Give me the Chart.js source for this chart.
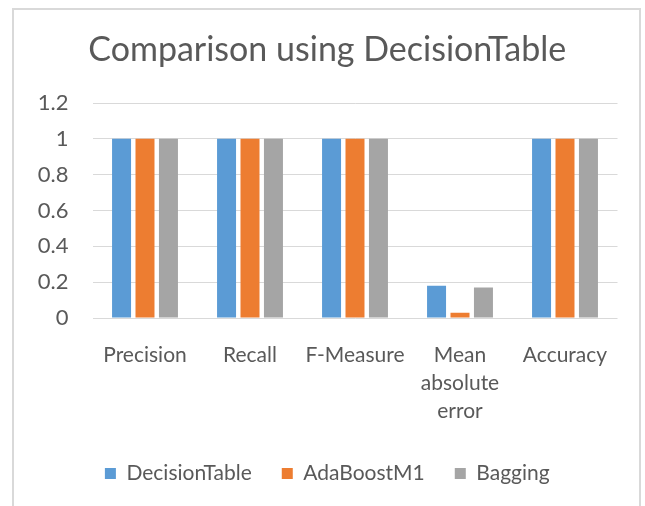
<!DOCTYPE html>
<html><head><meta charset="utf-8">
<script src="https://cdn.jsdelivr.net/npm/chart.js@4/dist/chart.umd.min.js"></script>
<style>
html,body{margin:0;padding:0;background:#fff;}
#wrap{position:relative;width:645px;height:506px;overflow:hidden;}
#frame{position:absolute;left:12px;top:8px;width:629px;height:520px;border:2px solid #d9d9d9;box-sizing:border-box;}
canvas{position:absolute;left:0;top:0;}
</style></head>
<body><div id="wrap"><div id="frame"></div><canvas id="c" width="645" height="506"></canvas></div>
<script>
const categories = ["Precision", "Recall", "F-Measure", ["Mean", "absolute", "error"], "Accuracy"];
const seriesNames = ["DecisionTable", "AdaBoostM1", "Bagging"];
const decisionTable = [1, 1, 1, 0.18, 1];
const adaBoostM1 = [1, 1, 1, 0.03, 1];
const bagging = [1, 1, 1, 0.17, 1];
const colors = ["#5B9BD5", "#ED7D31", "#A5A5A5"];
const yTicks = [0, 0.2, 0.4, 0.6, 0.8, 1, 1.2];

const FONT = "Lato, 'Open Sans', sans-serif";
const TXT = "#595959";

new Chart(document.getElementById('c'), {
  type: 'bar',
  data: {
    labels: categories,
    datasets: [decisionTable, adaBoostM1, bagging].map((d, i) => ({
      label: seriesNames[i], data: d, backgroundColor: colors[i],
      categoryPercentage: 0.67, barPercentage: 0.81
    }))
  },
  options: {
    responsive: false, animation: false,
    layout: { padding: { left: 37, right: 27.5, top: 0, bottom: 12 } },
    plugins: {
      title: { display: true, text: "Comparison using DecisionTable", color: TXT,
        font: { family: FONT, size: 34, weight: 'normal', lineHeight: 1.2 },
        padding: { top: 29.4, bottom: 32.8 } },
      legend: { position: 'bottom',
        labels: { color: TXT, font: { family: FONT, size: 21 }, boxWidth: 11, boxHeight: 11, padding: 30 } },
      tooltip: { enabled: false }
    },
    scales: {
      x: {
        grid: { display: false, drawTicks: false },
        border: { display: false },
        ticks: { color: TXT, font: { family: FONT, size: 21, lineHeight: 1.3333 }, padding: 23, maxRotation: 0, autoSkip: false },
        afterFit: s => { s.height = 115; }
      },
      y: {
        min: 0, max: 1.2,
        afterBuildTicks: s => { s.ticks = yTicks.map(v => ({ value: v })); },
        grid: { color: "#d9d9d9", lineWidth: 1, drawTicks: false },
        border: { display: false },
        ticks: { color: TXT, font: { family: FONT, size: 22 }, padding: 24, callback: v => String(v) },
        afterFit: s => { s.width = 55.5; }
      }
    }
  }
});
</script></body></html>
